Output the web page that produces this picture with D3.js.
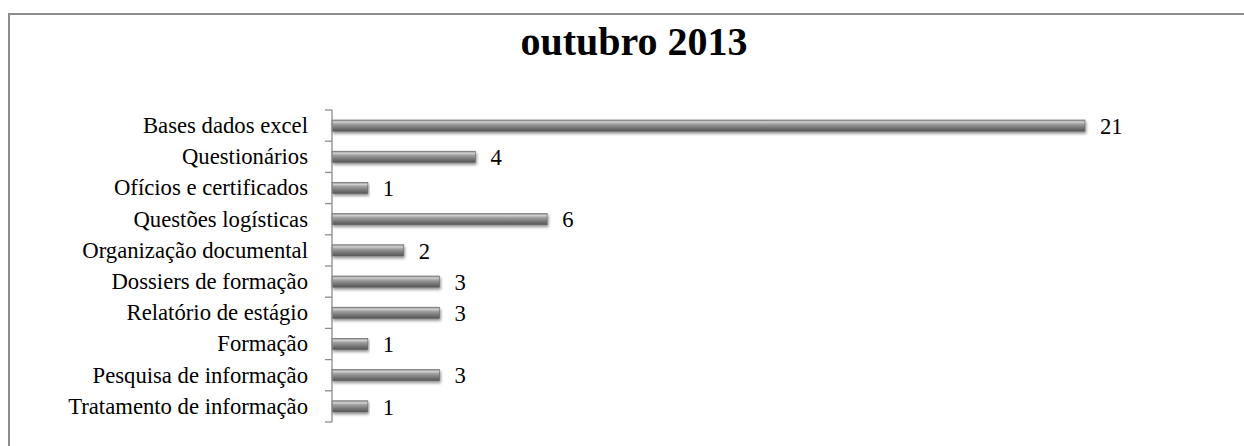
<!DOCTYPE html>
<html>
<head>
<meta charset="utf-8">
<script src="https://cdn.jsdelivr.net/npm/d3@7"></script>
<style>
  body { margin: 0; background: #fff; }
  svg { display: block; }
</style>
</head>
<body>
<script>
// chart data
var title = "outubro 2013";
var categories = [
    "Bases dados excel",
    "Questionários",
    "Ofícios e certificados",
    "Questões logísticas",
    "Organização documental",
    "Dossiers de formação",
    "Relatório de estágio",
    "Formação",
    "Pesquisa de informação",
    "Tratamento de informação"
];
var values = [21, 4, 1, 6, 2, 3, 3, 1, 3, 1];

var width = 1244, height = 446;
var margin = {top: 110, left: 332, bottom: 24};
var serif = "'Liberation Serif', 'Times New Roman', serif";

var svg = d3.select("body")
    .append("svg")
    .attr("width", width)
    .attr("height", height);

// frame of the chart area (right and bottom edges fall outside the picture)
svg.append("rect")
    .attr("x", 9)
    .attr("y", 14)
    .attr("width", width + 20)
    .attr("height", height + 20)
    .attr("fill", "none")
    .attr("stroke", "#8c8c8c")
    .attr("stroke-width", 2);

// gradient for the bevelled bars
var defs = svg.append("defs");
var grad = defs.append("linearGradient")
    .attr("id", "barGrad")
    .attr("x1", 0).attr("y1", 0).attr("x2", 0).attr("y2", 1);
grad.append("stop").attr("offset", "0%").attr("stop-color", "#8a8a8a");
grad.append("stop").attr("offset", "18%").attr("stop-color", "#d2d2d2");
grad.append("stop").attr("offset", "35%").attr("stop-color", "#a2a2a2");
grad.append("stop").attr("offset", "70%").attr("stop-color", "#767676");
grad.append("stop").attr("offset", "100%").attr("stop-color", "#555555");

var shadow = defs.append("filter")
    .attr("id", "shadow")
    .attr("x", "-5%").attr("y", "-50%")
    .attr("width", "110%").attr("height", "250%");
shadow.append("feGaussianBlur").attr("in", "SourceAlpha").attr("stdDeviation", 1.6);
shadow.append("feOffset").attr("dx", 1).attr("dy", 2).attr("result", "blur");
shadow.append("feComponentTransfer").append("feFuncA").attr("type", "linear").attr("slope", 0.45);
var merge = shadow.append("feMerge");
merge.append("feMergeNode");
merge.append("feMergeNode").attr("in", "SourceGraphic");

// scales
var y = d3.scaleBand()
    .domain(categories)
    .range([margin.top, height - margin.bottom])
    .paddingInner(0.64)
    .paddingOuter(0.32);

var x = d3.scaleLinear()
    .domain([0, 21])
    .range([margin.left, 1085]);

// title
svg.append("text")
    .attr("x", 634)
    .attr("y", 55)
    .attr("text-anchor", "middle")
    .style("font-family", serif)
    .style("font-size", "40px")
    .style("font-weight", "bold")
    .text(title);

// bars
var data = categories.map(function(c, i) { return {cat: c, val: values[i]}; });

svg.selectAll(".bar")
    .data(data)
    .enter().append("rect")
    .attr("class", "bar")
    .attr("x", x(0))
    .attr("y", function(d) { return y(d.cat); })
    .attr("width", function(d) { return x(d.val) - x(0); })
    .attr("height", y.bandwidth())
    .attr("fill", "url(#barGrad)")
    .attr("stroke", "#666")
    .attr("stroke-width", 0.6)
    .attr("filter", "url(#shadow)");

// axis line and tick marks at band boundaries
var axis = svg.append("g").attr("stroke", "#8c8c8c").attr("stroke-width", 1.3);
axis.append("line")
    .attr("x1", margin.left).attr("x2", margin.left)
    .attr("y1", margin.top).attr("y2", height - margin.bottom);
var bounds = d3.range(categories.length + 1).map(function(i) { return margin.top + i * (height - margin.bottom - margin.top) / categories.length; });
axis.selectAll(".tick")
    .data(bounds)
    .enter().append("line")
    .attr("x1", margin.left - 7).attr("x2", margin.left)
    .attr("y1", function(d) { return d; })
    .attr("y2", function(d) { return d; });

// category labels
svg.selectAll(".cat")
    .data(data)
    .enter().append("text")
    .attr("x", 308)
    .attr("y", function(d) { return y(d.cat) + y.bandwidth() / 2; })
    .attr("dy", "0.33em")
    .attr("text-anchor", "end")
    .style("font-family", serif)
    .style("font-size", "22.7px")
    .text(function(d) { return d.cat; });

// value labels
svg.selectAll(".val")
    .data(data)
    .enter().append("text")
    .attr("x", function(d) { return x(d.val) + 15; })
    .attr("y", function(d) { return y(d.cat) + y.bandwidth() / 2; })
    .attr("dy", "0.36em")
    .style("font-family", serif)
    .style("font-size", "22.7px")
    .text(function(d) { return d.val; });
</script>
</body>
</html>
